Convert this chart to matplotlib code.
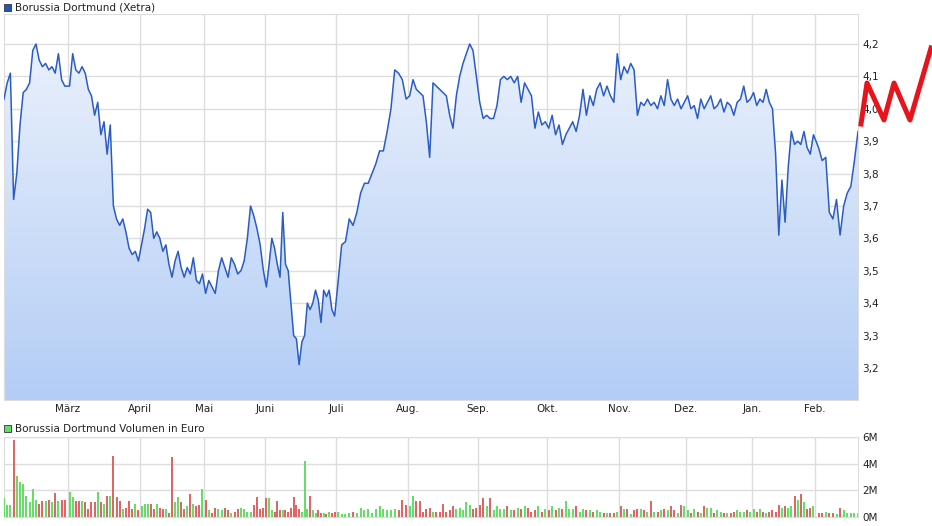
import matplotlib
matplotlib.use('Agg')
import matplotlib.pyplot as plt
import numpy as np
from matplotlib.patches import Polygon
from matplotlib.colors import LinearSegmentedColormap

plt.rcParams['font.family'] = 'DejaVu Sans'

# Kurs, je Monatsabschnitt (Handelstage)
sections = [
    [4.03, 4.08, 4.11, 3.72, 3.80, 3.95, 4.05, 4.06, 4.08, 4.18, 4.20, 4.15, 4.13, 4.14, 4.12, 4.13, 4.11, 4.17, 4.09, 4.07],
    [4.07, 4.17, 4.12, 4.11, 4.13, 4.11, 4.06, 4.04, 3.98, 4.02, 3.92, 3.96, 3.86, 3.95, 3.70, 3.66, 3.64, 3.66, 3.62, 3.57, 3.55, 3.56, 3.53],
    [3.58, 3.63, 3.69, 3.68, 3.60, 3.62, 3.60, 3.56, 3.58, 3.52, 3.48, 3.53, 3.56, 3.51, 3.48, 3.51, 3.49, 3.54, 3.47, 3.46, 3.49],
    [3.43, 3.47, 3.45, 3.43, 3.50, 3.54, 3.51, 3.48, 3.54, 3.52, 3.49, 3.50, 3.53, 3.60, 3.70, 3.67, 3.63, 3.58, 3.50],
    [3.45, 3.52, 3.60, 3.57, 3.52, 3.48, 3.68, 3.52, 3.50, 3.40, 3.30, 3.29, 3.21, 3.28, 3.30, 3.40, 3.38, 3.40, 3.44, 3.41, 3.34, 3.44, 3.42, 3.44, 3.38, 3.36],
    [3.46, 3.58, 3.59, 3.66, 3.64, 3.68, 3.74, 3.77, 3.77, 3.80, 3.83, 3.87, 3.87, 3.93, 4.00, 4.12, 4.11, 4.09, 4.03],
    [4.04, 4.09, 4.06, 4.05, 4.04, 3.96, 3.85, 4.08, 4.07, 4.06, 4.05, 4.04, 3.98, 3.94, 4.04, 4.10, 4.14, 4.17, 4.20, 4.18, 4.10],
    [4.02, 3.97, 3.98, 3.97, 3.97, 4.01, 4.09, 4.10, 4.09, 4.10, 4.08, 4.10, 4.02, 4.08, 4.06, 4.04, 3.94, 3.99, 3.95, 3.96],
    [3.94, 3.98, 3.92, 3.95, 3.89, 3.92, 3.94, 3.96, 3.93, 3.98, 4.06, 3.98, 4.04, 4.01, 4.06, 4.08, 4.04, 4.07, 4.04, 4.02, 4.17],
    [4.09, 4.13, 4.11, 4.14, 4.12, 3.98, 4.02, 4.01, 4.03, 4.01, 4.02, 4.00, 4.04, 4.01, 4.09, 4.03, 4.01, 4.03, 4.00, 4.02],
    [4.04, 4.00, 4.01, 3.97, 4.03, 4.00, 4.02, 4.04, 4.00, 4.01, 4.03, 3.99, 4.02, 4.01, 3.98, 4.02, 4.03, 4.07, 4.02, 4.03],
    [4.05, 4.01, 4.03, 4.02, 4.06, 4.02, 4.00, 3.86, 3.61, 3.78, 3.65, 3.82, 3.93, 3.89, 3.90, 3.89, 3.93, 3.88, 3.86, 3.92],
    [3.88, 3.84, 3.85, 3.68, 3.66, 3.72, 3.61, 3.70, 3.74, 3.76, 3.84, 3.93],
]
# Volumen in Mio. Euro, gleiche Abschnitte
vol_sections = [
    [1.4, 0.9, 0.9, 5.8, 3.1, 2.6, 2.5, 1.6, 1.1, 2.1, 1.3, 1.0, 1.2, 1.2, 1.3, 1.1, 1.8, 1.2, 1.3, 1.3],
    [1.9, 1.5, 1.2, 1.2, 1.2, 1.1, 0.6, 1.1, 1.1, 1.9, 1.1, 1.0, 1.6, 1.6, 4.6, 1.5, 1.2, 0.6, 0.7, 1.2, 0.6, 1.0, 0.5],
    [0.8, 1.0, 1.0, 1.0, 0.6, 1.0, 0.7, 0.6, 0.6, 0.3, 4.5, 1.1, 1.5, 1.1, 0.6, 0.8, 1.7, 1.0, 0.8, 0.9, 2.1],
    [1.3, 0.5, 0.3, 0.7, 0.6, 0.5, 0.7, 0.5, 0.3, 0.4, 0.6, 0.7, 0.6, 0.4, 0.4, 0.9, 1.5, 0.6, 0.7],
    [1.4, 1.4, 0.5, 0.4, 1.2, 0.5, 0.5, 0.5, 0.4, 0.7, 1.5, 0.9, 0.6, 0.4, 4.2, 0.6, 1.6, 0.5, 0.3, 0.5, 0.3, 0.3, 0.2, 0.4, 0.3, 0.4],
    [0.4, 0.2, 0.2, 0.3, 0.4, 0.3, 0.7, 0.5, 0.6, 0.3, 0.6, 0.8, 0.6, 0.5, 0.5, 0.6, 0.5, 1.3, 0.9],
    [0.8, 1.6, 1.2, 1.2, 0.4, 0.6, 0.7, 0.4, 0.4, 0.4, 1.0, 0.4, 0.5, 0.8, 0.6, 0.7, 0.5, 1.1, 0.9, 0.6, 0.7],
    [0.9, 1.4, 0.8, 1.4, 0.5, 0.8, 0.6, 0.6, 0.8, 0.5, 0.5, 0.7, 0.6, 0.8, 0.7, 0.4, 0.5, 0.8, 0.4, 0.6],
    [0.5, 0.8, 0.5, 0.7, 0.6, 1.2, 0.6, 0.6, 0.8, 0.4, 0.6, 0.5, 0.5, 0.4, 0.5, 0.4, 0.3, 0.3, 0.3, 0.3, 0.4],
    [0.8, 0.6, 0.6, 0.2, 0.5, 0.6, 0.6, 0.5, 0.4, 1.2, 0.4, 0.4, 0.5, 0.6, 0.5, 0.8, 0.5, 0.3, 0.9, 0.8],
    [0.5, 0.3, 0.6, 0.4, 0.3, 0.8, 0.7, 0.7, 0.3, 0.5, 0.4, 0.3, 0.3, 0.3, 0.4, 0.5, 0.4, 0.4, 0.5, 0.4],
    [0.6, 0.4, 0.6, 0.4, 0.3, 0.4, 0.5, 0.4, 0.9, 0.7, 0.8, 0.7, 0.8, 1.6, 1.3, 1.7, 1.1, 0.6, 0.7, 0.8],
    [0.3, 0.3, 0.4, 0.3, 0.3, 0.2, 0.7, 0.5, 0.3, 0.3, 0.3, 0.3],
]
months = ['März', 'April', 'Mai', 'Juni', 'Juli', 'Aug.', 'Sep.', 'Okt.', 'Nov.', 'Dez.', 'Jan.', 'Feb.']
price_ticks = [3.2, 3.3, 3.4, 3.5, 3.6, 3.7, 3.8, 3.9, 4.0, 4.1, 4.2]
vol_ticks = [0, 2, 4, 6]

# Zeitachse: Monatsgrenzen (Achsenkoordinaten 0..854), Tage gleichmäßig darin verteilt
bounds = [0, 64, 136, 200, 261, 332, 404, 474, 543, 615, 682, 748, 811, 854]
xs = []
for i, s in enumerate(sections):
    a, b = bounds[i], bounds[i + 1]
    k = len(s)
    if i == len(sections) - 1:
        xs.append(np.linspace(a, b, k + 1)[1:])
    elif i == 0:
        xs.append(np.linspace(a, b, k + 1)[:-1])
    else:
        xs.append(a + (np.arange(k) + 0.5) * (b - a) / k)
x = np.concatenate(xs)
price = np.array([p for s in sections for p in s])
vol = np.array([v for s in vol_sections for v in s])
n = len(price)
month_pos = bounds[1:-1]

W, H = 932, 526
fig = plt.figure(figsize=(W / 100, H / 100), dpi=100)
fig.patch.set_facecolor('white')
grid_c = '#dddddd'

ax = fig.add_axes([4 / W, 1 - 400 / H, 854 / W, 386 / H])
ymin, ymax = 3.101, 4.2926
ax.set_xlim(0, 854)
ax.set_ylim(ymin, ymax)
grad = np.linspace(0, 1, 256).reshape(-1, 1)
cmap = LinearSegmentedColormap.from_list('g', ['#b3cdf6', '#eef3fc'])
im = ax.imshow(grad, aspect='auto', cmap=cmap, origin='lower',
               extent=[0, 854, ymin, ymax], zorder=1)
poly = Polygon(np.vstack([[x[0], ymin], np.column_stack([x, price]), [x[-1], ymin]]),
               closed=True, facecolor='none', edgecolor='none')
ax.add_patch(poly)
im.set_clip_path(poly)
ax.plot(x, price, color='#2a5cc4', linewidth=1.1, zorder=3)
ax.set_xticks(month_pos)
ax.set_xticklabels(months, fontsize=7.5, color='#222222')
ax.set_yticks(price_ticks)
ax.set_yticklabels([f'{t:.1f}'.replace('.', ',') for t in price_ticks], fontsize=7.5, color='#222222')
ax.yaxis.tick_right()
ax.tick_params(length=0, pad=3)
ax.grid(True, color=grid_c, linewidth=1, zorder=0)
ax.set_axisbelow(True)
for sp in ax.spines.values():
    sp.set_color(grid_c)

axv = fig.add_axes([4 / W, 1 - 517 / H, 854 / W, 80 / H])
colors = ['#66dd66'] + ['#66dd66' if price[i] >= price[i - 1] else '#e06666' for i in range(1, n)]
axv.bar(x, vol, width=2.0, color=colors, zorder=3)
axv.set_xlim(0, 854)
axv.set_ylim(0, 6)
axv.set_xticks(month_pos)
axv.set_xticklabels([])
axv.set_yticks(vol_ticks)
axv.set_yticklabels([f'{t}M' for t in vol_ticks], fontsize=7.5, color='#222222')
axv.yaxis.tick_right()
axv.tick_params(length=0, pad=3)
axv.grid(True, color=grid_c, linewidth=1, zorder=0)
axv.set_axisbelow(True)
for sp in axv.spines.values():
    sp.set_color(grid_c)

# Legenden
fig.patches.append(plt.Rectangle((4 / W, 1 - 11 / H), 7 / W, 7 / H, transform=fig.transFigure,
                                 facecolor='#1f55c0', edgecolor='#333333', linewidth=0.6))
fig.text(15 / W, 1 - 7.5 / H, 'Borussia Dortmund (Xetra)', fontsize=7.5, va='center', color='#222222')
fig.patches.append(plt.Rectangle((4 / W, 1 - 432 / H), 7 / W, 7 / H, transform=fig.transFigure,
                                 facecolor='#66dd66', edgecolor='#333333', linewidth=0.6))
fig.text(15 / W, 1 - 428.5 / H, 'Borussia Dortmund Volumen in Euro', fontsize=7.5, va='center', color='#222222')

# Logo (rotes W)
lx = np.array([861, 867, 884, 894, 910, 931]) / W
ly = 1 - np.array([124, 83, 120, 83, 120, 48]) / H
fig.add_artist(plt.Line2D(lx, ly, transform=fig.transFigure, color='#e8141b', linewidth=3.6))

fig.savefig('out.png', dpi=100, facecolor='white')
